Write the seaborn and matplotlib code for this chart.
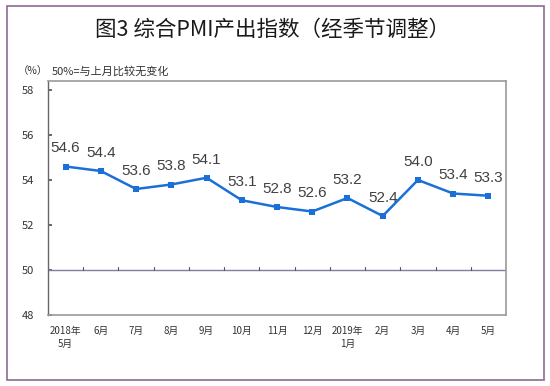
import matplotlib
matplotlib.use("Agg")
import matplotlib.pyplot as plt
import pandas as pd
import seaborn as sns
from matplotlib.patches import Rectangle

months = ["2018年\n5月", "6月", "7月", "8月", "9月", "10月", "11月", "12月",
          "2019年\n1月", "2月", "3月", "4月", "5月"]
pmi_output = [54.6, 54.4, 53.6, 53.8, 54.1, 53.1, 52.8, 52.6, 53.2, 52.4, 54.0, 53.4, 53.3]
y_ticks = [48, 50, 52, 54, 56, 58]

df = pd.DataFrame({"month": months, "value": pmi_output, "pos": range(len(months))})

sns.set_theme(style="white")
plt.rcParams["font.family"] = ["Noto Sans CJK SC", "DejaVu Sans"]

fig = plt.figure(figsize=(5.5, 3.86), dpi=100)
ax = fig.add_axes([48 / 550, 1 - 315 / 386, 458 / 550, 234 / 386])

# outer frame
fig.patches.append(Rectangle((7 / 550, 6 / 386), 537 / 550, 374 / 386, transform=fig.transFigure,
                             fill=False, edgecolor="#8e6a96", linewidth=1.2))

sns.lineplot(data=df, x="pos", y="value", ax=ax, color="#1a6fd8", linewidth=1.8,
             marker="s", markersize=4, markeredgewidth=0)

for x, v in zip(df["pos"], df["value"]):
    ax.annotate(f"{v:.1f}", (x, v), xytext=(0, 8), textcoords="offset points",
                ha="center", va="bottom", fontsize=11, color="#404040", family="Liberation Sans")

ax.axhline(50, color="#7f7f9c", linewidth=1.0)
# small category ticks on the 50 line
for b in range(1, len(months)):
    ax.plot([b - 0.5, b - 0.5], [50, 50.12], color="#555555", linewidth=0.8)

ax.set_xlim(-0.5, len(months) - 0.5)
ax.set_ylim(48, 58.4)
ax.set_yticks(y_ticks)
ax.set_yticklabels([str(t) for t in y_ticks], fontsize=8, color="#333333")
ax.tick_params(axis="y", direction="in", length=3, color="#555555", left=True, pad=10)
ax.set_xticks(df["pos"])
ax.set_xticklabels(months, fontsize=7, color="#333333", linespacing=1.4, va="top")
ax.tick_params(axis="x", length=0, pad=8)
ax.set_xlabel("")
ax.set_ylabel("")
for side in ["top", "right", "bottom"]:
    ax.spines[side].set_color("#999999")
    ax.spines[side].set_linewidth(1.2)
ax.spines["left"].set_color("#666666")
ax.spines["left"].set_linewidth(1.0)

fig.text(0.495, 1 - 30 / 386, "图3 综合PMI产出指数（经季节调整）", ha="center", va="center",
         fontsize=15.5, fontweight="medium", color="#1a1a1a")
fig.text(18 / 550, 1 - 71 / 386, "（%）", ha="left", va="center", fontsize=7.5, color="#333333")
fig.text(52 / 550, 1 - 71 / 386, "50%=与上月比较无变化", ha="left", va="center", fontsize=8,
         color="#333333")

fig.savefig("out.png", dpi=100)
